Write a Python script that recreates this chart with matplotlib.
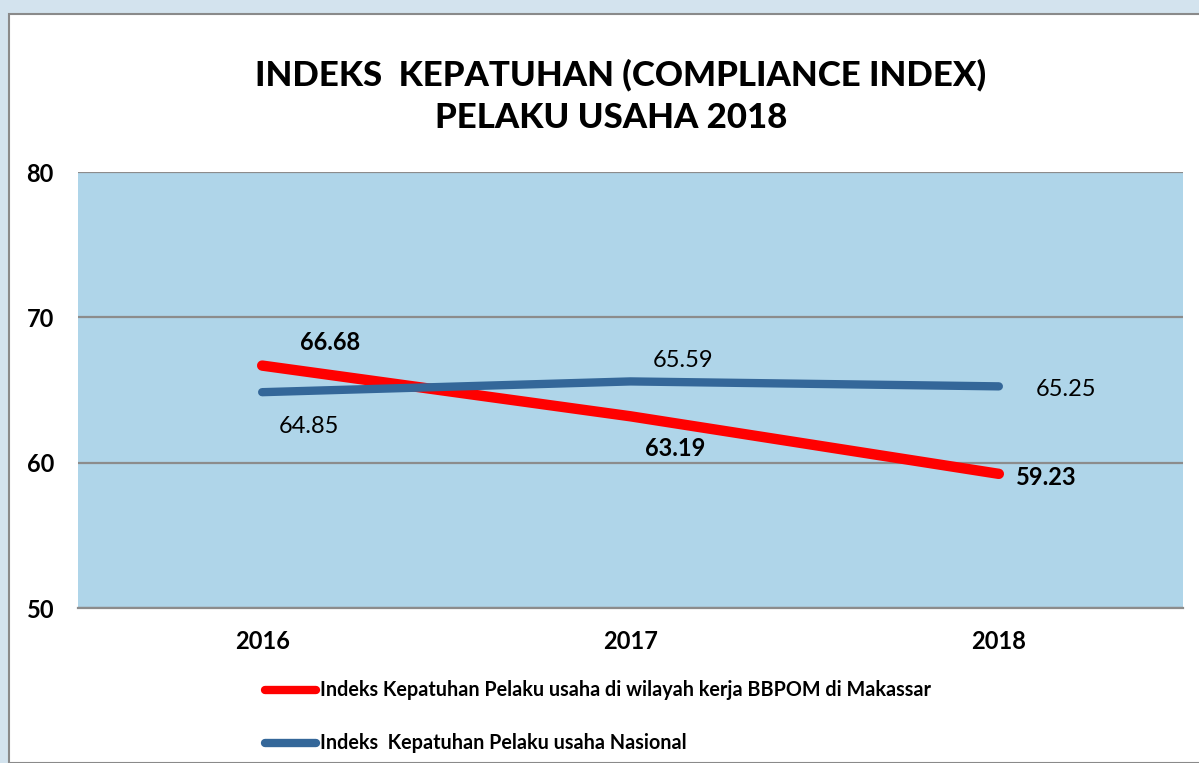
import matplotlib
matplotlib.use("Agg")
import matplotlib.pyplot as plt
from matplotlib.patches import Rectangle

years = ["2016", "2017", "2018"]
makassar = [66.68, 63.19, 59.23]
nasional = [64.85, 65.59, 65.25]
yticks = [50, 60, 70, 80]
title_lines = ["INDEKS  KEPATUHAN (COMPLIANCE INDEX)", "PELAKU USAHA 2018"]
legend_labels = ["Indeks Kepatuhan Pelaku usaha di wilayah kerja BBPOM di Makassar",
                 "Indeks  Kepatuhan Pelaku usaha Nasional"]

W, H = 1199, 763
fig = plt.figure(figsize=(W / 100, H / 100), dpi=100)
fig.patch.set_facecolor("#d3e3ee")
bg = Rectangle((9 / W, 0), 1.0, 1 - 14 / H, transform=fig.transFigure,
               facecolor="white", edgecolor="#8a8a8a", linewidth=1.5, zorder=-10)
fig.add_artist(bg)

font = "Lato"
ax = fig.add_axes([78 / W, 1 - 608 / H, (1183 - 78) / W, (608 - 172) / H])
ax.set_zorder(5)
ax.set_facecolor("#afd5e9")
x = [0.5, 1.5, 2.5]
red, blue = "#ff0000", "#346799"
l1, = ax.plot(x, makassar, color=red, lw=7.5, solid_capstyle="round", zorder=3)
l2, = ax.plot(x, nasional, color=blue, lw=6, solid_capstyle="round", zorder=3)
ax.set_xlim(0, 3)
ax.set_ylim(50, 80)
ax.tick_params(length=0)
ax.tick_params(axis="x", pad=16)
ax.tick_params(axis="y", pad=37)
tick_font = dict(family=font, weight="bold", size=17)
ax.set_xticks(x)
ax.set_xticklabels(years, fontdict=tick_font)
ax.set_yticks(yticks)
ax.set_yticklabels([str(t) for t in yticks], fontdict=tick_font, ha="left")
ax.grid(axis="y", color="#8c8c8c", lw=1.6)
ax.set_axisbelow(True)
for s in ["left", "right", "top"]:
    ax.spines[s].set_visible(False)
ax.spines["bottom"].set_color("#8c8c8c")
ax.spines["bottom"].set_linewidth(1.6)

# data labels
red_off = [(68, 23), (45, -32), (47, -4)]
blue_off = [(47, -34), (53, 21), (67, -3)]
for xi, v, (dx, dy) in zip(x, makassar, red_off):
    ax.annotate(f"{v:.2f}", (xi, v), xytext=(dx, dy), textcoords="offset pixels",
                ha="center", va="center", fontsize=17, fontweight="bold", fontfamily=font)
for xi, v, (dx, dy) in zip(x, nasional, blue_off):
    ax.annotate(f"{v:.2f}", (xi, v), xytext=(dx, dy), textcoords="offset pixels",
                ha="center", va="center", fontsize=17, fontfamily=font)

# title
fig.text(621 / W, 1 - 75 / H, title_lines[0], ha="center", va="center",
         fontsize=25, fontweight="black", fontfamily=font)
fig.text(611 / W, 1 - 118 / H, title_lines[1], ha="center", va="center",
         fontsize=25, fontweight="black", fontfamily=font)

# legend
for yy, h, lab in zip([690, 743], [l1, l2], legend_labels):
    fig.add_artist(plt.Line2D([265 / W, 316 / W], [1 - yy / H, 1 - yy / H],
                              transform=fig.transFigure, color=h.get_color(),
                              lw=6, solid_capstyle="round"))
    fig.text(320 / W, 1 - yy / H, lab, ha="left", va="center", fontsize=14.2,
             fontweight="bold", fontfamily=font)

fig.savefig("out.png", dpi=100, facecolor=fig.get_facecolor())
